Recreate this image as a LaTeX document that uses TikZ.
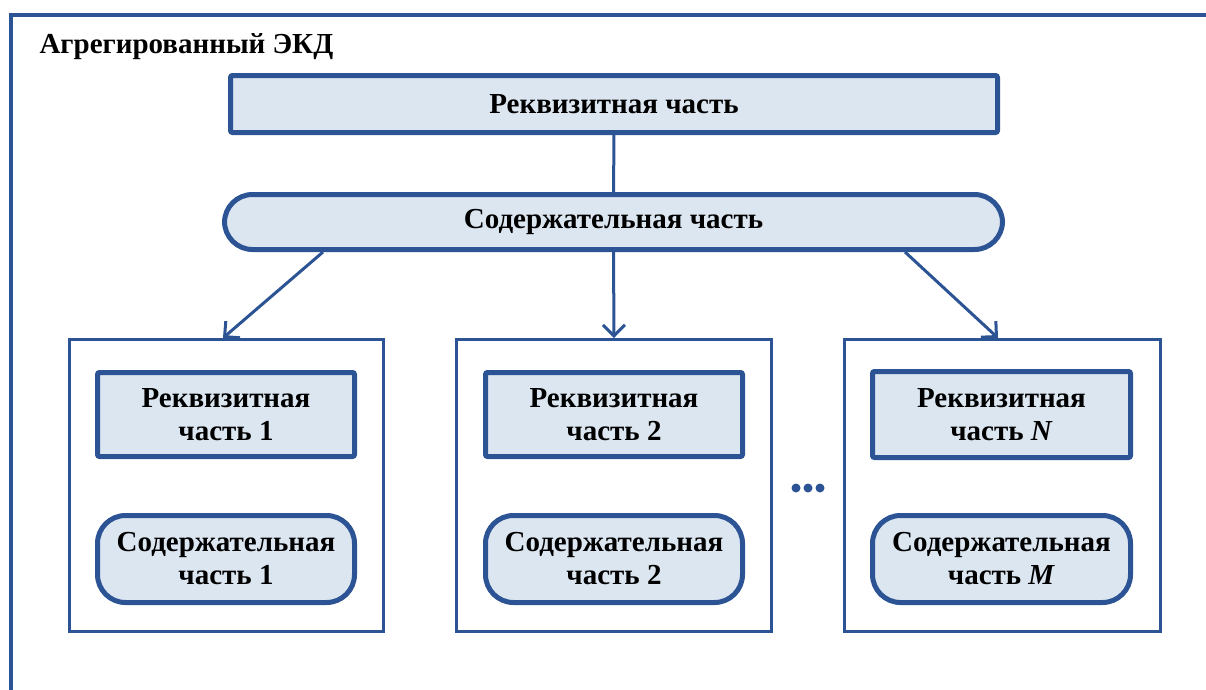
\documentclass[tikz,border=0pt]{standalone}
\usepackage{fontspec}
\setmainfont{Liberation Serif}
\usetikzlibrary{arrows.meta}
\definecolor{ekdline}{HTML}{2C5494}
\definecolor{ekdfill}{HTML}{DCE6F1}

\begin{document}
\begin{tikzpicture}[x=1pt, y=-1pt,
    txt/.style={font=\fontsize{29}{33}\selectfont\bfseries, align=center, text=black},
    reqbox/.style={txt, draw=ekdline, fill=ekdfill, line width=5pt, inner sep=0pt, rounded corners=2pt},
    contbox/.style={reqbox, rounded corners=28pt},
    partbox/.style={draw=ekdline, line width=3pt, inner sep=0pt},
    conn/.style={draw=ekdline, line width=3pt},
    arr/.style={conn, -{Straight Barb[length=11pt, width=22pt, line width=3pt]}}]
  \useasboundingbox (0,0) rectangle (1206,689);
  \clip (0,0) rectangle (1206,689);

  % Outer frame
  \draw[ekdline, line width=3.5pt] (11,720) -- (11,15) -- (1240,15);
  \node[txt, anchor=west] (title) at (36,47) {Агрегированный ЭКД};

  % Top level
  \node[reqbox, minimum width=767pt, minimum height=57pt] (req) at (614,104) {Реквизитная часть};
  \node[contbox, minimum width=778pt, minimum height=55pt] (cont) at (613.5,222) {Содержательная часть};
  \draw[conn] (req) -- (cont);

  % Parts
  \node[partbox, minimum width=314pt, minimum height=292pt] (part1) at (226.5,485.5) {};
  \node[partbox, minimum width=315pt, minimum height=292pt] (part2) at (614,485.5) {};
  \node[partbox, minimum width=316pt, minimum height=292pt] (part3) at (1002.5,485.5) {};

  \node[reqbox, minimum width=257pt, minimum height=84pt] (req1) at (226,414.5) {Реквизитная\\часть 1};
  \node[contbox, minimum width=257pt, minimum height=87pt] (cont1) at (226,559) {Содержательная\\часть 1};
  \node[reqbox, minimum width=257pt, minimum height=84pt] (req2) at (614,414.5) {Реквизитная\\часть 2};
  \node[contbox, minimum width=257pt, minimum height=87pt] (cont2) at (614,559) {Содержательная\\часть 2};
  \node[reqbox, minimum width=258pt, minimum height=86pt] (req3) at (1001.5,414.5) {Реквизитная\\часть~\textit{N}};
  \node[contbox, minimum width=258pt, minimum height=87pt] (cont3) at (1001.5,559) {Содержательная\\часть~\textit{M}};

  % Arrows to parts
  \draw[arr] (cont.south -| 323,0) -- (part1.north -| 223,0);
  \draw[arr] (cont.south) -- (part2.north);
  \draw[arr] (cont.south -| 905,0) -- (part3.north -| 998,0);

  % Dots between parts
  \foreach \dx in {796,808,820}
    \fill[ekdline] (\dx,488) circle (4.5pt);
\end{tikzpicture}
\end{document}
